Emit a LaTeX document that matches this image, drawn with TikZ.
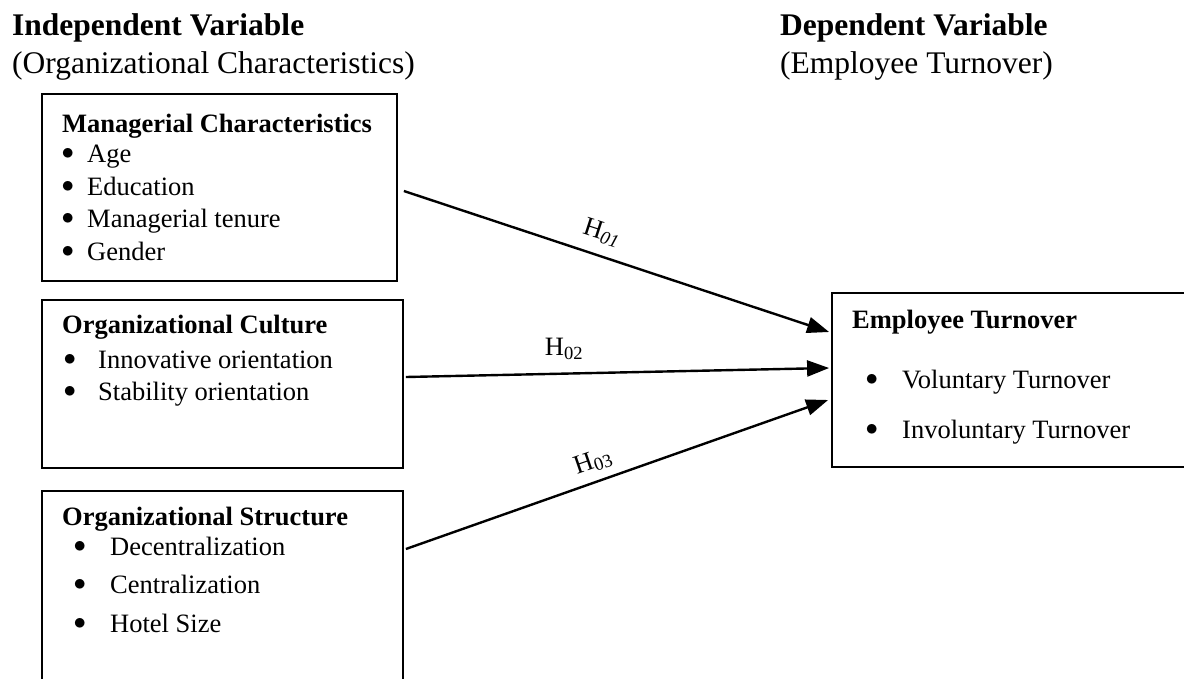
\documentclass[tikz,border=0pt]{standalone}
\usepackage{fontspec}
\setmainfont{Liberation Serif}
\usetikzlibrary{arrows.meta,positioning}
\newcommand\itemdot{\raisebox{2.5pt}{$\bullet$}}

\begin{document}
\begin{tikzpicture}[x=1pt,y=-1pt,
		box/.style={draw,line width=1.8pt,inner sep=0pt},
		hdr/.style={anchor=base west,inner sep=0pt,font=\fontsize{31.5}{36}\selectfont},
		ttl/.style={anchor=base west,inner sep=0pt,font=\fontsize{26.5}{32}\selectfont\bfseries},
		itm/.style={anchor=base west,inner sep=0pt,font=\fontsize{26.5}{32}\selectfont},
		hyp/.style={inner sep=0pt,font=\fontsize{26.5}{32}\selectfont},
		arr/.style={line width=2.4pt,-{Triangle[length=22pt,width=16pt]}}]
	\clip (0,0) rectangle (1184,678);
	% headings
	\node [hdr] (indep) at (12,35) {\bfseries Independent Variable};
	\node [hdr] (indepsub) at (12,73) {(Organizational Characteristics)};
	\node [hdr] (dep) at (780,35) {\bfseries Dependent Variable};
	\node [hdr] (depsub) at (780,73) {(Employee Turnover)};
	% boxes
	\node [box,minimum width=355pt,minimum height=187pt] (mgr) at (219.5,187.5) {};
	\node [box,minimum width=361pt,minimum height=168pt] (cult) at (222.5,384) {};
	\node [box,minimum width=361pt,minimum height=209pt] (struc) at (222.5,595.5) {};
	\node [box,minimum width=368pt,minimum height=174pt] (turn) at (1016,380) {};
	% managerial characteristics
	\node [ttl] (mgrttl) at (62,132) {Managerial Characteristics};
	\node [itm] (age) at (61.5,162) {\makebox[25.5pt][l]{\itemdot}Age};
	\node [itm] (edu) at (61.5,195) {\makebox[25.5pt][l]{\itemdot}Education};
	\node [itm] (ten) at (61.5,227) {\makebox[25.5pt][l]{\itemdot}Managerial tenure};
	\node [itm] (gen) at (61.5,260) {\makebox[25.5pt][l]{\itemdot}Gender};
	% organizational culture
	\node [ttl] (cultttl) at (62,333) {Organizational Culture};
	\node [itm] (inno) at (63.5,368) {\makebox[34.5pt][l]{\itemdot}Innovative orientation};
	\node [itm] (stab) at (63.5,400) {\makebox[34.5pt][l]{\itemdot}Stability orientation};
	% organizational structure
	\node [ttl] (structtl) at (62,525) {Organizational Structure};
	\node [itm] (decen) at (73.5,555) {\makebox[36.5pt][l]{\itemdot}Decentralization};
	\node [itm] (cen) at (73.5,593) {\makebox[36.5pt][l]{\itemdot}Centralization};
	\node [itm] (size) at (73.5,632) {\makebox[36.5pt][l]{\itemdot}Hotel Size};
	% employee turnover
	\node [ttl] (turnttl) at (852,328) {Employee Turnover};
	\node [itm] (vol) at (865.5,388) {\makebox[36.5pt][l]{\itemdot}Voluntary Turnover};
	\node [itm] (invol) at (865.5,438) {\makebox[36.5pt][l]{\itemdot}Involuntary Turnover};
	% hypotheses
	\draw [arr] ([xshift=6pt,yshift=-3.5pt]mgr.east) -- ([xshift=-2pt,yshift=48pt]turn.west);
	\draw [arr] ([xshift=2pt,yshift=7pt]cult.east) -- ([xshift=-2pt,yshift=12pt]turn.west);
	\draw [arr] ([xshift=2pt,yshift=46.5pt]struc.east) -- ([xshift=-3pt,yshift=-20pt]turn.west);
	\node [hyp,rotate=-18] (h1) at (602,233) {H\textsubscript{\textit{01}}};
	\node [hyp] (h2) at (564,349) {H\textsubscript{02}};
	\node [hyp,rotate=19] (h3) at (593,462) {H\textsubscript{03}};
\end{tikzpicture}
\end{document}
